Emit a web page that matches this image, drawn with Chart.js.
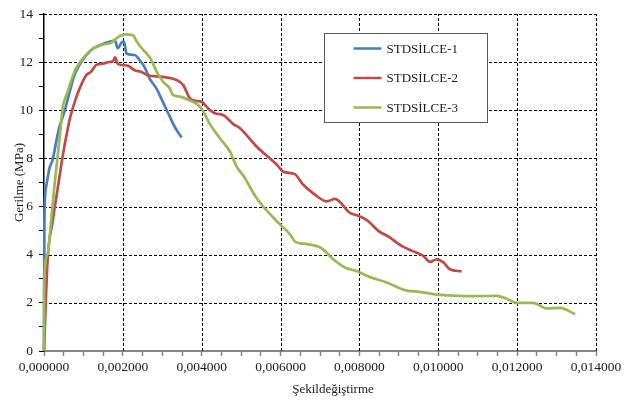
<!DOCTYPE html>
<html>
<head>
<meta charset="utf-8">
<script src="https://cdn.jsdelivr.net/npm/chart.js@4/dist/chart.umd.min.js"></script>
<style>
    html, body { margin: 0; padding: 0; background: #fff; }
    #wrap { width: 631px; height: 403px; }
</style>
</head>
<body>
<div id="wrap"><canvas id="stressChart" width="631" height="403"></canvas></div>
<script>
// series names and colours (Excel 2007 palette)
const seriesNames = ["STDSİLCE-1", "STDSİLCE-2", "STDSİLCE-3"];
const seriesColors = ["#4A7EBB", "#BE4B48", "#98B954"];

// STDSİLCE-1
const strain1 = [0, 0.00001, 0.00005, 0.00014, 0.00022, 0.00031, 0.00039, 0.00052, 0.00065, 0.00077,
    0.00094, 0.00119, 0.00145, 0.00170, 0.00180, 0.00187, 0.00197, 0.00203, 0.00209, 0.00230,
    0.00243, 0.00255, 0.00268, 0.00285, 0.00302, 0.00315, 0.00331, 0.00349];
const stress1 = [0, 5.4, 6.8, 7.6, 7.95, 8.7, 9.3, 9.95, 10.77, 11.46,
    12.0, 12.5, 12.73, 12.87, 12.9, 12.58, 12.82, 12.86, 12.36, 12.3,
    12.08, 11.8, 11.32, 10.91, 10.33, 9.88, 9.33, 8.87];

// STDSİLCE-2
const strain2 = [0, 0.00009, 0.00022, 0.00035, 0.00048, 0.00061, 0.00068, 0.00081, 0.00094, 0.00107,
    0.00119, 0.00132, 0.00149, 0.00166, 0.00175, 0.00180, 0.00187, 0.00200, 0.00213, 0.00230,
    0.00246, 0.00263, 0.00302, 0.00336, 0.00353, 0.00370, 0.00387, 0.00399, 0.00420, 0.00437,
    0.00454, 0.00480, 0.00497, 0.00539, 0.00590, 0.00607, 0.00636, 0.00657, 0.00683, 0.00717,
    0.00738, 0.00776, 0.00797, 0.00822, 0.00848, 0.00873, 0.00907, 0.00937, 0.00962, 0.00979,
    0.00996, 0.01013, 0.01029, 0.01059];
const stress2 = [0, 3.75, 5.4, 6.78, 8.16, 9.3, 9.81, 10.5, 11.05, 11.46,
    11.6, 11.88, 11.94, 12.01, 12.04, 12.2, 11.94, 11.88, 11.85, 11.67,
    11.6, 11.46, 11.39, 11.26, 11.05, 10.5, 10.39, 10.36, 10.02, 9.86,
    9.81, 9.43, 9.26, 8.5, 7.75, 7.45, 7.35, 6.92, 6.55, 6.22,
    6.32, 5.74, 5.62, 5.4, 4.99, 4.76, 4.37, 4.14, 3.95, 3.70,
    3.81, 3.68, 3.40, 3.31];

// STDSİLCE-3
const strain3 = [0, 0.000005, 0.00009, 0.00018, 0.00026, 0.00035, 0.00043, 0.00047, 0.00060, 0.00068,
    0.00081, 0.00098, 0.00124, 0.00149, 0.00170, 0.00183, 0.00192, 0.00208, 0.00226, 0.00235,
    0.00248, 0.00269, 0.00286, 0.00302, 0.00319, 0.00327, 0.00344, 0.00370, 0.00391, 0.00403,
    0.00420, 0.00446, 0.00472, 0.00488, 0.00505, 0.00539, 0.00590, 0.00624, 0.00637, 0.00658,
    0.00703, 0.00733, 0.00763, 0.00793, 0.00827, 0.00869, 0.00920, 0.00953, 0.00996, 0.01030,
    0.01089, 0.01149, 0.01173, 0.01199, 0.01241, 0.01275, 0.01309, 0.01347];
const stress3 = [0, 2.8, 4.02, 5.4, 6.78, 8.16, 9.4, 10.08, 10.77, 11.19,
    11.74, 12.15, 12.56, 12.73, 12.81, 12.98, 13.09, 13.16, 13.12, 12.86,
    12.58, 12.18, 11.6, 11.19, 10.91, 10.64, 10.57, 10.41, 10.22, 9.98,
    9.45, 8.84, 8.28, 7.67, 7.3, 6.36, 5.4, 4.85, 4.54, 4.46,
    4.28, 3.82, 3.47, 3.32, 3.07, 2.85, 2.51, 2.46, 2.34, 2.31,
    2.28, 2.29, 2.17, 2.0, 2.0, 1.77, 1.79, 1.53];

// axis ticks
const xMax = 0.014;
const xMajorStep = 0.002;
const xMinorStep = 0.0005;
const yMax = 14;
const yMajorStep = 2;
const yMinorStep = 1;
const xTitle = "Şekildeğiştirme";
const yTitle = "Gerilme (MPa)";

const strains = [strain1, strain2, strain3];
const stresses = [stress1, stress2, stress3];

function toPoints(xs, ys) {
    return xs.map((x, i) => ({ x: x, y: ys[i] }));
}

function isMajor(value, step) {
    const r = value / step;
    return Math.abs(r - Math.round(r)) < 1e-6;
}

const fontFamily = "'Liberation Serif', 'Times New Roman', serif";
const textColor = "#1a1a1a";

// dashed grid at the major ticks only
const dashedGrid = {
    id: "dashedGrid",
    beforeDatasetsDraw(chart) {
        const ctx = chart.ctx;
        const area = chart.chartArea;
        const xs = chart.scales.x;
        const ys = chart.scales.y;
        ctx.save();
        ctx.strokeStyle = "#000";
        ctx.lineWidth = 1;
        ctx.setLineDash([3, 2]);
        xs.ticks.forEach((t) => {
            if (t.value <= 0 || !isMajor(t.value, xMajorStep)) return;
            const px = Math.round(xs.getPixelForValue(t.value)) + 0.5;
            ctx.beginPath();
            ctx.moveTo(px, area.bottom);
            ctx.lineTo(px, area.top);
            ctx.stroke();
        });
        ys.ticks.forEach((t) => {
            if (t.value <= 0 || !isMajor(t.value, yMajorStep)) return;
            const py = Math.round(ys.getPixelForValue(t.value)) + 0.5;
            ctx.beginPath();
            ctx.moveTo(area.left, py);
            ctx.lineTo(area.right, py);
            ctx.stroke();
        });
        ctx.restore();
    }
};

// legend drawn inside the plot area, like the Excel one; x title sits a bit right of centre
const insideLegend = {
    id: "insideLegend",
    afterDatasetsDraw(chart) {
        const ctx = chart.ctx;
        const area = chart.chartArea;
        const left = Math.round(area.left + 280) + 0.5;
        const top = Math.round(area.top + 19) + 0.5;
        const w = 163;
        const h = 89;
        ctx.save();
        ctx.fillStyle = "#fff";
        ctx.fillRect(left, top, w, h);
        ctx.strokeStyle = "#595959";
        ctx.lineWidth = 1;
        ctx.strokeRect(left, top, w, h);
        ctx.font = "13px " + fontFamily;
        ctx.textBaseline = "middle";
        ctx.textAlign = "left";
        chart.data.datasets.forEach((ds, i) => {
            const y = top + 15 + i * 29.5;
            ctx.strokeStyle = ds.borderColor;
            ctx.lineWidth = 2.5;
            ctx.beginPath();
            ctx.moveTo(left + 29, y);
            ctx.lineTo(left + 57, y);
            ctx.stroke();
            ctx.fillStyle = textColor;
            ctx.fillText(ds.label, left + 62, y + 1);
        });
        ctx.textAlign = "center";
        ctx.fillText(xTitle, (area.left + area.right) / 2 + 13, area.bottom + 39);
        ctx.restore();
    }
};

const ctx = document.getElementById("stressChart").getContext("2d");
new Chart(ctx, {
    type: "line",
    data: {
        datasets: seriesNames.map((name, i) => ({
            label: name,
            data: toPoints(strains[i], stresses[i]),
            borderColor: seriesColors[i],
            backgroundColor: seriesColors[i],
            borderWidth: 2.7,
            pointRadius: 0,
            fill: false,
            cubicInterpolationMode: "monotone",
            clip: false,
            order: 2 - i
        }))
    },
    options: {
        responsive: false,
        animation: false,
        layout: { padding: { top: 11, right: 35, left: 0, bottom: 0 } },
        plugins: {
            legend: { display: false },
            tooltip: { enabled: false }
        },
        scales: {
            x: {
                type: "linear",
                min: 0,
                max: xMax,
                afterFit: (scale) => { scale.height = 52; },
                border: { color: "#868686", width: 2 },
                grid: {
                    drawOnChartArea: false,
                    tickLength: 5,
                    tickColor: "#868686",
                    tickWidth: 1.5
                },
                ticks: {
                    stepSize: xMinorStep,
                    autoSkip: false,
                    maxRotation: 0,
                    padding: 3,
                    color: textColor,
                    font: { family: fontFamily, size: 13.5 },
                    callback: (v) => isMajor(v, xMajorStep) ? v.toFixed(6).replace(".", ",") : ""
                },
                title: { display: false }
            },
            y: {
                type: "linear",
                min: 0,
                max: yMax,
                afterFit: (scale) => { scale.width = 44; },
                border: { color: "#000", width: 1.5 },
                grid: {
                    drawOnChartArea: false,
                    tickLength: 5,
                    tickColor: "#000",
                    tickWidth: 1
                },
                ticks: {
                    stepSize: yMinorStep,
                    autoSkip: false,
                    padding: 6,
                    color: textColor,
                    font: { family: fontFamily, size: 13.5 },
                    callback: (v) => isMajor(v, yMajorStep) ? String(v) : ""
                },
                title: {
                    display: true,
                    text: yTitle,
                    color: textColor,
                    font: { family: fontFamily, size: 13 },
                    padding: { top: 12, bottom: 0 }
                }
            }
        }
    },
    plugins: [dashedGrid, insideLegend]
});
</script>
</body>
</html>
